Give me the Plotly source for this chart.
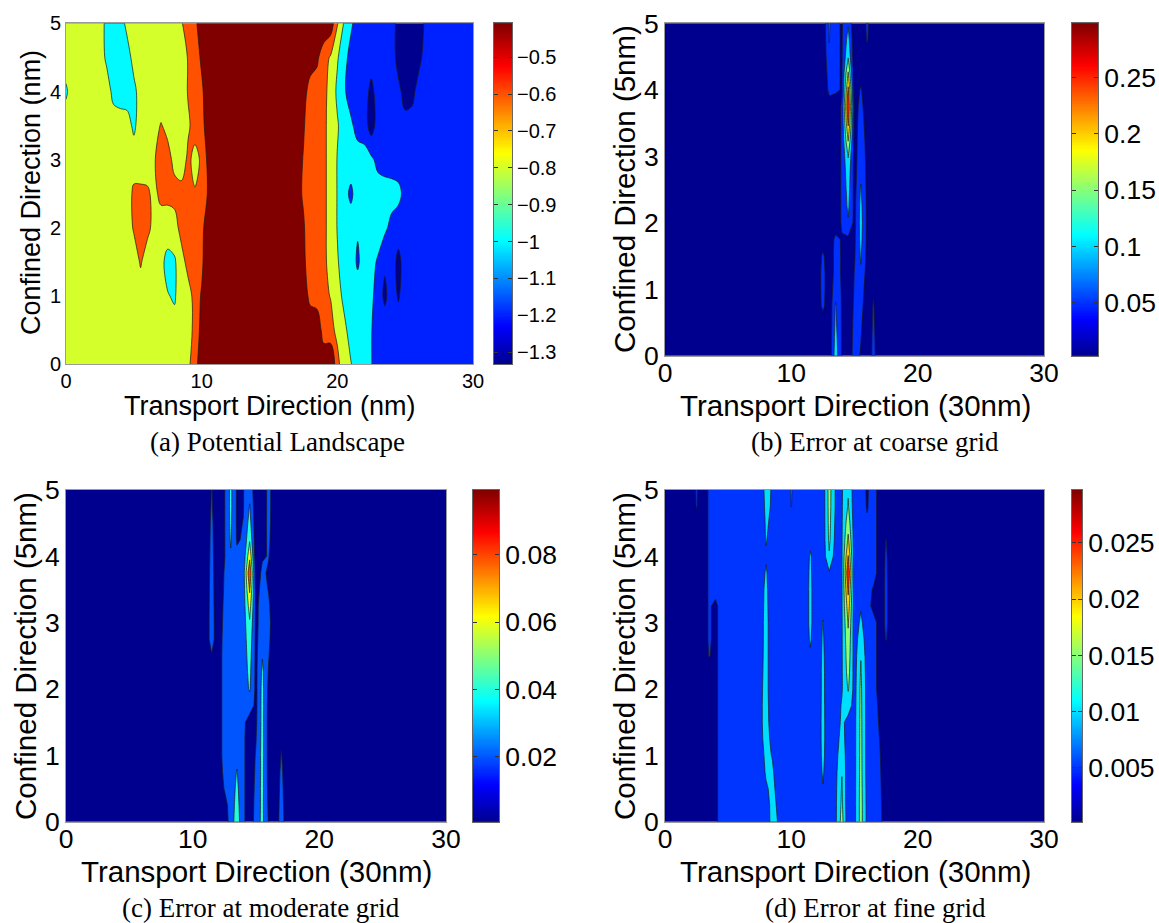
import numpy as np
import plotly.graph_objects as go

W, H = 1159, 923
SANS = "Liberation Sans, Arial, Helvetica, sans-serif"
SERIF = "Liberation Serif, Times New Roman, serif"

# ---------------- (a) Potential landscape, sampled every 0.5 nm ----------------
a_x = np.arange(0, 30.01, 0.5)
a_y = np.arange(0, 5.01, 0.5)
a_z = [
    [-0.70,-0.70,-0.70,-0.70,-0.70,-0.70,-0.70,-0.70,-0.70,-0.70, -0.70,-0.70,-0.70,-0.70,-0.70,-0.70,-0.70,-0.70,-0.62,-0.55,
     -0.42,-0.42,-0.42,-0.42,-0.42,-0.42,-0.42,-0.42,-0.42,-0.42, -0.42,-0.42,-0.42,-0.42,-0.42,-0.42,-0.42,-0.42,-0.42,-0.42,
     -0.55,-0.70,-0.79,-0.90,-0.90,-0.99,-1.10,-1.10,-1.10,-1.10, -1.10,-1.10,-1.10,-1.10,-1.10,-1.10,-1.10,-1.10,-1.10,-1.10, -1.10],
    [-0.70,-0.70,-0.70,-0.70,-0.70,-0.70,-0.70,-0.70,-0.70,-0.70, -0.70,-0.70,-0.70,-0.70,-0.72,-0.73,-0.74,-0.70,-0.63,-0.58,
     -0.46,-0.42,-0.42,-0.42,-0.42,-0.42,-0.42,-0.42,-0.42,-0.42, -0.42,-0.42,-0.42,-0.42,-0.42,-0.42,-0.42,-0.42,-0.55,-0.55,
     -0.64,-0.75,-0.88,-0.90,-0.90,-0.99,-1.10,-1.10,-1.10,-1.10, -1.10,-1.10,-1.10,-1.10,-1.10,-1.10,-1.10,-1.10,-1.10,-1.10, -1.10],
    [-0.70,-0.70,-0.70,-0.70,-0.70,-0.70,-0.70,-0.70,-0.70,-0.70, -0.70,-0.70,-0.70,-0.71,-0.73,-0.79,-0.82,-0.70,-0.66,-0.55,
     -0.49,-0.43,-0.42,-0.42,-0.42,-0.42,-0.42,-0.42,-0.42,-0.42, -0.42,-0.42,-0.42,-0.42,-0.43,-0.44,-0.53,-0.55,-0.57,-0.605,
     -0.72,-0.85,-0.90,-0.90,-0.90,-0.95,-1.10,-1.24,-1.10,-1.22, -1.10,-1.10,-1.10,-1.10,-1.10,-1.10,-1.10,-1.10,-1.10,-1.10, -1.10],
    [-0.70,-0.70,-0.70,-0.70,-0.70,-0.70,-0.70,-0.70,-0.70,-0.70, -0.70,-0.58,-0.70,-0.72,-0.75,-0.86,-0.83,-0.66,-0.55,-0.54,
     -0.52,-0.42,-0.42,-0.42,-0.42,-0.42,-0.42,-0.42,-0.42,-0.42, -0.42,-0.42,-0.42,-0.42,-0.44,-0.48,-0.55,-0.55,-0.56,-0.66,
     -0.78,-0.90,-0.90,-1.03,-0.90,-0.95,-1.02,-1.17,-1.10,-1.26, -1.10,-1.10,-1.10,-1.10,-1.10,-1.10,-1.10,-1.10,-1.10,-1.10, -1.10],
    [-0.70,-0.70,-0.70,-0.70,-0.70,-0.70,-0.70,-0.70,-0.70,-0.70, -0.58,-0.55,-0.55,-0.66,-0.70,-0.70,-0.66,-0.55,-0.55,-0.54,
     -0.53,-0.43,-0.42,-0.42,-0.42,-0.42,-0.42,-0.42,-0.42,-0.42, -0.42,-0.42,-0.42,-0.43,-0.45,-0.49,-0.55,-0.55,-0.57,-0.65,
     -0.81,-0.90,-0.90,-0.98,-0.90,-0.90,-0.92,-0.96,-1.06,-1.10, -1.10,-1.10,-1.10,-1.10,-1.10,-1.10,-1.10,-1.10,-1.10,-1.10, -1.10],
    [-0.70,-0.70,-0.70,-0.70,-0.70,-0.70,-0.70,-0.70,-0.70,-0.70, -0.56,-0.56,-0.57,-0.65,-0.55,-0.55,-0.55,-0.55,-0.56,-0.59,
     -0.55,-0.49,-0.43,-0.42,-0.42,-0.42,-0.42,-0.42,-0.42,-0.42, -0.42,-0.42,-0.43,-0.45,-0.47,-0.51,-0.55,-0.55,-0.57,-0.65,
     -0.81,-0.93,-1.04,-0.90,-0.90,-0.90,-0.90,-0.90,-0.92,-0.95, -1.06,-1.10,-1.10,-1.10,-1.10,-1.10,-1.10,-1.10,-1.10,-1.10, -1.10],
    [-0.70,-0.70,-0.70,-0.70,-0.70,-0.70,-0.70,-0.70,-0.70,-0.70, -0.70,-0.70,-0.70,-0.61,-0.55,-0.55,-0.64,-0.68,-0.57,-0.64,
     -0.58,-0.47,-0.43,-0.42,-0.42,-0.42,-0.42,-0.42,-0.42,-0.42, -0.42,-0.42,-0.43,-0.44,-0.46,-0.505,-0.55,-0.55,-0.57,-0.65,
     -0.81,-0.90,-0.90,-0.90,-0.92,-0.96,-1.06,-1.10,-1.10,-1.10, -1.10,-1.10,-1.10,-1.10,-1.10,-1.10,-1.10,-1.10,-1.10,-1.10, -1.10],
    [-0.70,-0.70,-0.70,-0.70,-0.70,-0.70,-0.70,-0.70,-0.70,-0.72, -0.84,-0.70,-0.68,-0.66,-0.59,-0.64,-0.68,-0.68,-0.62,-0.55,
     -0.53,-0.45,-0.42,-0.42,-0.42,-0.42,-0.42,-0.42,-0.42,-0.42, -0.42,-0.42,-0.42,-0.43,-0.45,-0.49,-0.55,-0.55,-0.57,-0.65,
     -0.78,-0.90,-0.96,-1.08,-1.10,-1.30,-1.10,-1.10,-1.10,-1.12, -1.15,-1.12,-1.10,-1.10,-1.10,-1.10,-1.10,-1.10,-1.10,-1.10, -1.10],
    [-0.83,-0.70,-0.70,-0.70,-0.70,-0.70,-0.70,-0.86,-0.90,-0.90, -0.86,-0.70,-0.70,-0.70,-0.70,-0.70,-0.68,-0.68,-0.59,-0.55,
     -0.52,-0.43,-0.42,-0.42,-0.42,-0.42,-0.42,-0.42,-0.42,-0.42, -0.42,-0.42,-0.42,-0.42,-0.43,-0.46,-0.54,-0.55,-0.55,-0.66,
     -0.84,-0.97,-1.10,-1.10,-1.10,-1.26,-1.10,-1.10,-1.10,-1.16, -1.26,-1.26,-1.12,-1.10,-1.10,-1.10,-1.10,-1.10,-1.10,-1.10, -1.10],
    [-0.70,-0.70,-0.70,-0.70,-0.70,-0.70,-0.84,-0.90,-0.90,-0.90, -0.72,-0.70,-0.70,-0.70,-0.70,-0.70,-0.69,-0.68,-0.59,-0.56,
     -0.48,-0.42,-0.42,-0.42,-0.42,-0.42,-0.42,-0.42,-0.42,-0.42, -0.42,-0.42,-0.42,-0.42,-0.42,-0.43,-0.45,-0.48,-0.56,-0.61,
     -0.78,-0.92,-1.08,-1.10,-1.10,-1.10,-1.10,-1.10,-1.12,-1.26, -1.26,-1.26,-1.26,-1.12,-1.10,-1.10,-1.10,-1.10,-1.10,-1.10, -1.10],
    [-0.70,-0.70,-0.70,-0.70,-0.70,-0.70,-0.86,-0.90,-0.90,-0.74, -0.70,-0.70,-0.70,-0.70,-0.70,-0.69,-0.66,-0.61,-0.55,-0.53,
     -0.43,-0.42,-0.42,-0.42,-0.42,-0.42,-0.42,-0.42,-0.42,-0.42, -0.42,-0.42,-0.42,-0.42,-0.42,-0.42,-0.42,-0.42,-0.42,-0.44,
     -0.58,-0.82,-0.96,-1.10,-1.10,-1.10,-1.10,-1.10,-1.12,-1.26, -1.26,-1.26,-1.26,-1.18,-1.10,-1.10,-1.10,-1.10,-1.10,-1.10, -1.10],
]
a_levels = [-1.2, -1.0, -0.8, -0.6, -0.5]
a_fills = ["rgb(0,33,255)", "rgb(0,250,255)", "rgb(212,255,43)", "rgb(255,81,0)", "rgb(128,0,0)"]
a_cb_range = [-1.333, -0.408]
a_cb_ticks = [-1.3, -1.2, -1.1, -1.0, -0.9, -0.8, -0.7, -0.6, -0.5]
a_cb_text = ["\u22121.3", "\u22121.2", "\u22121.1", "\u22121", "\u22120.9", "\u22120.8", "\u22120.7", "\u22120.6", "\u22120.5"]

# shared y sampling of the error maps (every 0.25 nm, bottom to top)
err_y = np.arange(0, 5.01, 0.25)

# ---------------- (b) Error at coarse grid: columns of values (y = 0 ... 5) ----------------
b_x = [0, 11.5, 12.0, 12.5, 13.0, 13.5, 14.0, 14.5, 15.0, 15.5, 16.0, 16.5, 17.0, 17.5, 30]
b_floor = [0.01] * 21
b_c125 = [0.01, 0.01, 0.02, 0.065, 0.07, 0.07, 0.06, 0.02] + [0.01] * 13
b_c130 = [0.01] * 15 + [0.03, 0.062, 0.072, 0.09, 0.102, 0.105]
b_c135 = [0.13, 0.12, 0.11, 0.105, 0.085, 0.07, 0.07, 0.065] + [0.01] * 8 + [0.062] * 5
b_c140 = [0.045] * 8 + [0.058] * 8 + [0.045] * 5
b_c145 = [0.01] * 7 + [0.04, 0.095, 0.11, 0.12, 0.13, 0.152, 0.205, 0.26, 0.298, 0.26, 0.205, 0.145, 0.12, 0.095]
b_c150 = [0.075, 0.07, 0.065, 0.06, 0.055, 0.052, 0.045, 0.04, 0.035, 0.035, 0.032, 0.03, 0.03, 0.03, 0.03, 0.028, 0.02, 0.01, 0.01, 0.01, 0.01]
b_c155 = [0.045, 0.052, 0.06, 0.07, 0.08, 0.095, 0.105, 0.115, 0.12, 0.115, 0.105, 0.09, 0.08, 0.075, 0.07, 0.065, 0.055, 0.035, 0.02, 0.01, 0.01]
b_c160 = [0.01, 0.01, 0.01, 0.015, 0.02, 0.028, 0.035, 0.038, 0.038, 0.038, 0.038, 0.038, 0.038, 0.036, 0.03, 0.022, 0.015, 0.01, 0.03, 0.055, 0.06]
b_c165 = [0.065, 0.062, 0.058, 0.054, 0.045] + [0.01] * 16
b_cols = [b_floor, b_floor, b_floor, b_c125, b_c130, b_c135, b_c140, b_c145, b_c150, b_c155, b_c160, b_c165, b_floor, b_floor, b_floor]
b_levels = [0.05, 0.10, 0.15, 0.20, 0.25]
b_fills = ["rgb(0,48,255)", "rgb(0,219,255)", "rgb(133,255,122)", "rgb(255,206,0)", "rgb(255,36,0)"]
b_cb_range = [0.003, 0.298]
b_cb_ticks = [0.05, 0.1, 0.15, 0.2, 0.25]
b_cb_text = ["0.05", "0.1", "0.15", "0.2", "0.25"]

# ---------------- (c) Error at moderate grid ----------------
c_x = [0, 10.5, 11.0, 11.5, 12.0, 12.5, 13.0, 13.5, 14.0, 14.5, 15.0, 15.5, 16.0, 16.5, 17.0, 17.5, 30]
c_floor = [0.005] * 21
c_c115 = [0.005] * 10 + [0.018, 0.03, 0.03, 0.029, 0.028, 0.027, 0.026, 0.025, 0.024, 0.022, 0.021]
c_c125 = [0.005, 0.01, 0.021, 0.026, 0.03, 0.03, 0.03, 0.03, 0.03, 0.03, 0.03, 0.028, 0.026, 0.024, 0.022, 0.021, 0.018, 0.018, 0.018, 0.018, 0.018]
c_c130 = [0.03] * 15 + [0.033, 0.038, 0.042, 0.044, 0.045, 0.045]
c_c135 = [0.05, 0.047, 0.044, 0.041, 0.035] + [0.03] * 11 + [0.024, 0.018, 0.017, 0.017, 0.017]
c_c140 = [0.025] * 7 + [0.03] * 9 + [0.026, 0.022, 0.0205, 0.019, 0.019]
c_c145 = [0.005] * 6 + [0.01, 0.03, 0.042, 0.045, 0.048, 0.052, 0.058, 0.068, 0.083, 0.0985, 0.075, 0.058, 0.048, 0.041, 0.035]
c_c150 = [0.03, 0.028, 0.026, 0.024, 0.022, 0.019, 0.016] + [0.015] * 7 + [0.012, 0.008] + [0.005] * 5
c_c155 = [0.045, 0.045, 0.046, 0.046, 0.047, 0.047, 0.047, 0.047, 0.046, 0.044, 0.039, 0.033, 0.03, 0.029, 0.027, 0.024, 0.018, 0.012, 0.008, 0.005, 0.005]
c_c160 = [0.018, 0.016, 0.014, 0.013, 0.012, 0.012, 0.012, 0.013, 0.015, 0.018, 0.021, 0.024, 0.026, 0.023, 0.019, 0.017, 0.021, 0.024, 0.026, 0.027, 0.027]
c_c170 = [0.03, 0.028, 0.026, 0.024, 0.021, 0.018] + [0.005] * 15
c_cols = [c_floor, c_floor, c_floor, c_c115, c_floor, c_c125, c_c130, c_c135, c_c140, c_c145, c_c150, c_c155, c_c160, c_floor, c_c170, c_floor, c_floor]
c_levels = [0.02, 0.04, 0.06, 0.08]
c_fills = ["rgb(0,85,255)", "rgb(34,255,221)", "rgb(237,255,18)", "rgb(255,69,0)"]
c_cb_range = [0.0007, 0.0993]
c_cb_ticks = [0.02, 0.04, 0.06, 0.08]
c_cb_text = ["0.02", "0.04", "0.06", "0.08"]

# ---------------- (d) Error at fine grid ----------------
d_x = [0, 2.0, 2.5, 3.0, 3.5, 4.0, 4.5, 7.0, 7.5, 8.0, 8.5, 9.0, 9.5, 10.0, 10.5, 11.0, 11.5, 12.0,
       12.5, 13.0, 13.5, 14.0, 14.5, 15.0, 15.5, 16.0, 16.5, 17.0, 17.5, 18.0, 30]
d_navy = [0.003] * 21
d_blue = [0.007] * 21
d_c25 = [0.003] * 18 + [0.0035, 0.0052, 0.0053]
d_c35 = [0.003] * 10 + [0.0052] + [0.0055] * 10
d_c40 = [0.004] * 14 + [0.0065] + [0.007] * 6
d_c75 = [0.007, 0.007, 0.007, 0.0075, 0.008, 0.0088, 0.009, 0.009, 0.0088, 0.0085, 0.0082, 0.008, 0.008, 0.008, 0.008, 0.0075, 0.007, 0.007, 0.007, 0.007, 0.007]
d_c80 = [0.007, 0.008, 0.0095, 0.0105, 0.011, 0.0113, 0.0115, 0.0115, 0.0115, 0.0115, 0.0115, 0.0115, 0.0115, 0.0112, 0.011, 0.0105, 0.0095, 0.0103, 0.0105, 0.011, 0.0115]
d_c85 = [0.012, 0.0115, 0.011, 0.0105, 0.0098, 0.009, 0.008, 0.0075] + [0.007] * 9 + [0.008, 0.0092, 0.0095, 0.0095]
d_c90 = [0.0095, 0.009, 0.0085, 0.008, 0.0075] + [0.007] * 16
d_c100 = [0.007] * 19 + [0.0101, 0.0103]
d_c115 = [0.007] * 10 + [0.0095, 0.0105, 0.011, 0.011, 0.011, 0.0108, 0.0105, 0.009, 0.007, 0.007, 0.007]
d_c125 = [0.007, 0.009, 0.0098, 0.0105, 0.011, 0.0112, 0.0112, 0.0111, 0.011, 0.011, 0.0108, 0.0105, 0.0102, 0.009] + [0.007] * 7
d_c130 = [0.007] * 15 + [0.0095, 0.0145, 0.016, 0.0165, 0.0168, 0.017]
d_c135 = [0.009, 0.009, 0.0088, 0.0085, 0.008, 0.0075] + [0.007] * 10 + [0.0075, 0.0085, 0.009, 0.0095, 0.0095]
d_c140 = [0.017, 0.016, 0.0155, 0.0148, 0.0135, 0.012, 0.011, 0.0105] + [0.0095] * 13
d_c145 = [0.006, 0.006, 0.006, 0.0065, 0.007, 0.0075, 0.0085, 0.012, 0.0155, 0.017, 0.018, 0.019, 0.0205, 0.023, 0.026, 0.0297, 0.0252, 0.021, 0.018, 0.0155, 0.0145]
d_c150 = [0.0085] * 7 + [0.0083, 0.008, 0.0078, 0.0075, 0.0072] + [0.007] * 9
d_c155 = [0.017, 0.017, 0.0168, 0.0166, 0.0165, 0.0164, 0.0163, 0.0162, 0.016, 0.0155, 0.0148, 0.013, 0.011, 0.0095, 0.008] + [0.007] * 6
d_c160 = [0.0085, 0.0085, 0.0083, 0.008, 0.008, 0.008, 0.008, 0.008, 0.008, 0.0078, 0.0075, 0.0072, 0.007, 0.007, 0.007, 0.007, 0.007, 0.007, 0.0055, 0.0047, 0.0045]
d_c165 = [0.007] * 13 + [0.0035, 0.0045] + [0.007] * 6
d_c170 = [0.006, 0.0058, 0.0056, 0.0054, 0.0052, 0.0049, 0.0045, 0.004] + [0.003] * 13
d_c175 = [0.003] * 11 + [0.0052, 0.0056, 0.0056, 0.0056, 0.0055, 0.0054, 0.0051, 0.003, 0.003, 0.003]
d_cols = [d_navy, d_navy, d_c25, d_navy, d_c35, d_c40, d_blue, d_blue, d_c75, d_c80, d_c85, d_c90, d_blue, d_c100,
          d_blue, d_blue, d_c115, d_blue, d_c125, d_c130, d_c135, d_c140, d_c145, d_c150, d_c155, d_c160, d_c165,
          d_c170, d_c175, d_navy, d_navy]
d_levels = [0.005, 0.010, 0.015, 0.020, 0.025]
d_fills = ["rgb(0,52,255)", "rgb(0,222,255)", "rgb(138,255,117)", "rgb(255,204,0)", "rgb(255,31,0)"]
d_cb_range = [0.0002, 0.0297]
d_cb_ticks = [0.005, 0.01, 0.015, 0.02, 0.025]
d_cb_text = ["0.005", "0.01", "0.015", "0.02", "0.025"]

# ---------------- styling ----------------
NAVY = "rgb(0,0,143)"
JET = [[0.0, "rgb(0,0,143)"], [0.111, "rgb(0,0,255)"], [0.365, "rgb(0,255,255)"],
       [0.619, "rgb(255,255,0)"], [0.873, "rgb(255,0,0)"], [1.0, "rgb(128,0,0)"]]

panels = [
    dict(n=1, xs=a_x, ys=a_y, z=a_z, levels=a_levels, fills=a_fills, smooth=1.0,
         px=(66, 473), py=(23.3, 364.3), cbx=494, cbw=18, cbr=a_cb_range, cbt=a_cb_ticks, cbtx=a_cb_text,
         tick=20, ttl=27, xstand=-1, xt="Transport Direction (nm)", yt="Confined Direction (nm)",
         xtpos=(270, 406), ytpos=(31, 193), cap="(a) Potential Landscape", cappos=(277, 442)),
    dict(n=2, xs=b_x, ys=err_y, z=np.array(b_cols).T.tolist(), levels=b_levels, fills=b_fills, smooth=0,
         px=(665, 1044), py=(23.3, 355.7), cbx=1072, cbw=26, cbr=b_cb_range, cbt=b_cb_ticks, cbtx=b_cb_text,
         tick=26.5, ttl=29.5, xstand=-7, xt="Transport Direction (30nm)", yt="Confined Direction (5nm)",
         xtpos=(855, 405), ytpos=(624, 189), cap="(b) Error at coarse grid", cappos=(875, 442)),
    dict(n=3, xs=c_x, ys=err_y, z=np.array(c_cols).T.tolist(), levels=c_levels, fills=c_fills, smooth=0,
         px=(66, 446), py=(490, 821.7), cbx=473, cbw=26, cbr=c_cb_range, cbt=c_cb_ticks, cbtx=c_cb_text,
         tick=26.5, ttl=29.5, xstand=-7, xt="Transport Direction (30nm)", yt="Confined Direction (5nm)",
         xtpos=(256, 871), ytpos=(25, 656), cap="(c) Error at moderate grid", cappos=(261, 908)),
    dict(n=4, xs=d_x, ys=err_y, z=np.array(d_cols).T.tolist(), levels=d_levels, fills=d_fills, smooth=0,
         px=(665, 1044), py=(490, 821.7), cbx=1072, cbw=10, cbr=d_cb_range, cbt=d_cb_ticks, cbtx=d_cb_text,
         tick=26.5, ttl=29.5, xstand=-7, xt="Transport Direction (30nm)", yt="Confined Direction (5nm)",
         xtpos=(855, 871), ytpos=(624, 656), cap="(d) Error at fine grid", cappos=(875, 908)),
]

fig = go.Figure()
layout = dict(template="none", width=W, height=H, margin=dict(l=0, r=0, t=0, b=0, pad=0),
              paper_bgcolor="white", plot_bgcolor=NAVY, showlegend=False, annotations=[],
              font=dict(family=SANS, color="black"))

for p in panels:
    n = p["n"]
    sfx = "" if n == 1 else str(n)
    xa, ya = "x" + sfx, "y" + sfx
    cn = str(n + 4)
    cxa, cya = "x" + cn, "y" + cn
    top, bot = p["py"]
    x0, x1 = p["px"]

    # filled contour bands (plotly shades the region violating the constraint, so "<" fills z >= level)
    for lev, col in zip(p["levels"], p["fills"]):
        fig.add_trace(go.Contour(
            x=p["xs"], y=p["ys"], z=p["z"],
            contours=dict(type="constraint", operation="<", value=lev),
            fillcolor=col, line=dict(color="#1a1a1a", width=0.7, smoothing=p["smooth"]),
            showscale=False, hoverinfo="skip", xaxis=xa, yaxis=ya))

    # colour bar drawn as its own small axis with a jet gradient strip
    lo, hi = p["cbr"]
    strip = np.linspace(lo, hi, 300)
    fig.add_trace(go.Heatmap(x=[0], y=strip, z=[[v] for v in strip], colorscale=JET, zmin=lo, zmax=hi,
                             showscale=False, hoverinfo="skip", xaxis=cxa, yaxis=cya))

    layout["xaxis" + sfx] = dict(domain=[x0 / W, x1 / W], range=[0, 30], anchor=ya, tickvals=[0, 10, 20, 30],
                                 ticks="", showgrid=False, zeroline=False, showline=True, linecolor="#9a9a9a",
                                 linewidth=1, mirror=True, automargin=False, ticklabelstandoff=p["xstand"],
                                 tickfont=dict(family=SANS, size=p["tick"], color="black"))
    layout["yaxis" + sfx] = dict(domain=[1 - bot / H, 1 - top / H], range=[0, 5], anchor=xa,
                                 tickvals=[0, 1, 2, 3, 4, 5], ticks="", showgrid=False, zeroline=False,
                                 showline=True, linecolor="#9a9a9a", linewidth=1, mirror=True, automargin=False,
                                 tickfont=dict(family=SANS, size=p["tick"], color="black"))
    layout["xaxis" + cn] = dict(domain=[p["cbx"] / W, (p["cbx"] + p["cbw"]) / W], range=[-0.5, 0.5], anchor=cya,
                                showticklabels=False, ticks="", showgrid=False, zeroline=False, showline=True,
                                linecolor="#666", linewidth=1, mirror=True, automargin=False, fixedrange=True)
    layout["yaxis" + cn] = dict(domain=[1 - bot / H, 1 - top / H], range=[lo, hi], anchor=cxa, side="right",
                                tickvals=p["cbt"], ticktext=p["cbtx"], ticks="inside", ticklen=4,
                                tickcolor="#333", tickwidth=1, showgrid=False, zeroline=False, showline=True,
                                linecolor="#666", linewidth=1, mirror="allticks", automargin=False,
                                fixedrange=True, tickfont=dict(family=SANS, size=p["tick"], color="black"))

    layout["annotations"] += [
        dict(text=p["xt"], x=p["xtpos"][0] / W, y=1 - p["xtpos"][1] / H, xref="paper", yref="paper",
             xanchor="center", yanchor="middle", showarrow=False,
             font=dict(family=SANS, size=p["ttl"], color="black")),
        dict(text=p["yt"], x=p["ytpos"][0] / W, y=1 - p["ytpos"][1] / H, xref="paper", yref="paper",
             xanchor="center", yanchor="middle", showarrow=False, textangle=-90,
             font=dict(family=SANS, size=p["ttl"], color="black")),
        dict(text=p["cap"], x=p["cappos"][0] / W, y=1 - p["cappos"][1] / H, xref="paper", yref="paper",
             xanchor="center", yanchor="middle", showarrow=False,
             font=dict(family=SERIF, size=27, color="black")),
    ]

fig.update_layout(**layout)
fig.write_html("out.html")
